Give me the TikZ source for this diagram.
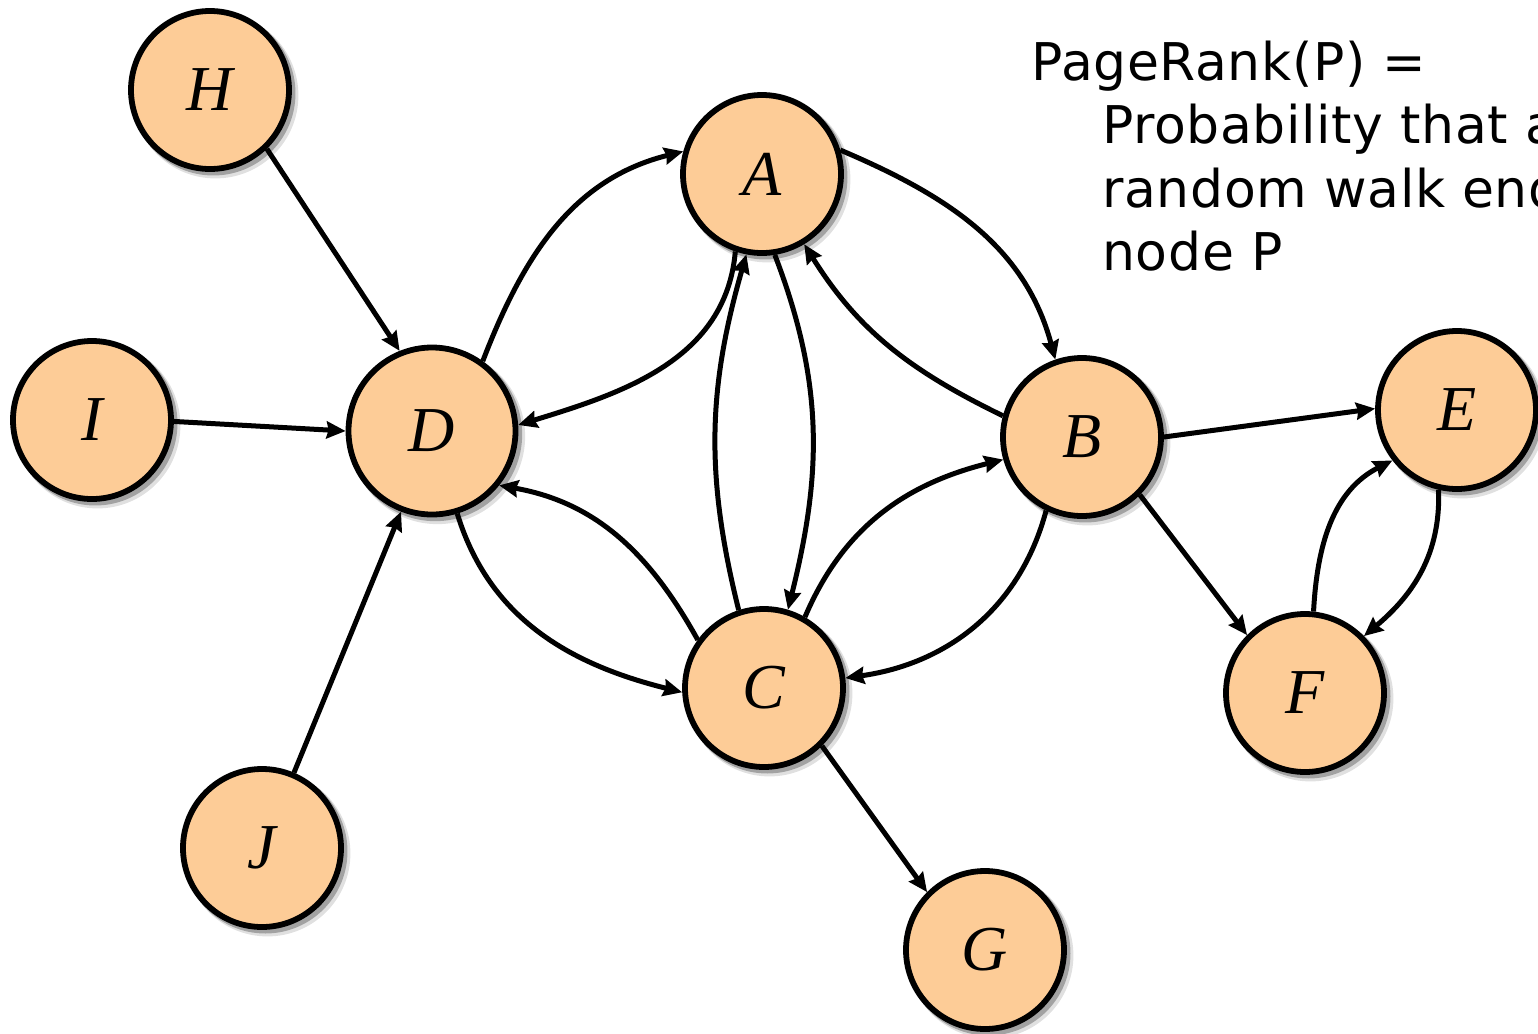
\documentclass[tikz,border=0pt]{standalone}
\usepackage{fontspec}
\setmainfont{Liberation Serif}
\newfontfamily\notefont[LetterSpace=1.2]{DejaVu Sans}
\usetikzlibrary{arrows.meta,shadows}
\definecolor{nodefill}{RGB}{253,204,151}

\begin{document}
\begin{tikzpicture}[x=0.5pt,y=0.5pt,
  vertex/.style={circle, draw=black, line width=2.9pt, fill=nodefill,
    minimum size=79pt, inner sep=0pt,
    font=\fontsize{32}{36}\selectfont\itshape,
    general shadow={shadow xshift=1.6pt, shadow yshift=-1.6pt, shadow scale=1.04,
      fill=black, opacity=0.28},
    general shadow={shadow xshift=2.6pt, shadow yshift=-2.6pt, shadow scale=1.05,
      fill=black, opacity=0.12}},
  bigvertex/.style={vertex, minimum size=83.5pt},
  link/.style={line width=2.5pt, -{Stealth[length=9.5pt,width=8.5pt,inset=1pt]}},
  note/.style={anchor=base west, inner sep=0pt, font=\notefont\fontsize{26}{32}\selectfont},
]
\useasboundingbox (0,0) rectangle (1538,-1034);
\clip (0,0) rectangle (1538,-1034);

% the formula in the upper right corner
\node[note] (note1) at (1031,-80)  {PageRank(P) =};
\node[note] (note2) at (1102,-143) {Probability that a};
\node[note] (note3) at (1102,-207) {random walk ends at};
\node[note] (note4) at (1102,-270) {node P};

% vertices
\node[vertex]    (H) at (210,-90)   {H};
\node[vertex]    (A) at (762,-174)  {A};
\node[vertex]    (I) at (92,-420)   {I};
\node[bigvertex] (D) at (432,-431)  {D};
\node[vertex]    (B) at (1082,-437) {B};
\node[vertex]    (E) at (1457,-410) {E};
\node[vertex]    (C) at (764,-688)  {C};
\node[vertex]    (F) at (1305,-693) {F};
\node[vertex]    (J) at (262,-848)  {J};
\node[vertex]    (G) at (985,-950)  {G};

% links into D from the left
\draw[link] (H.-46) -- (D.112);
\draw[link] (I.-1) -- (D.180);
\draw[link] (J.67) -- (D.-111);

% central cluster
\draw[link] (D.54)   to[out=69,in=194]   (A.164);
\draw[link] (A.-109) to[out=-95,in=17]   (D.4);
\draw[link] (A.-81)  to[out=-69,in=76]   (C.73);
\draw[link] (C.108)  to[out=104,in=-106] (A.-101);
\draw[link] (B.165)  to[out=154,in=-58]  (A.-59);
\draw[link] (A.17)   to[out=-23,in=105]  (B.109);
\draw[link] (D.-73)  to[out=-73,in=166]  (C.183);
\draw[link] (C.144)  to[out=119,in=-10]  (D.-39);
\draw[link] (C.60)   to[out=67,in=194]   (B.196);
\draw[link] (B.-116) to[out=-105,in=8]   (C.7);

% right part
\draw[link] (B.0)    -- (E.179);
\draw[link] (B.-45)  -- (F.135);
\draw[link] (F.84)   to[out=87,in=207]   (E.218);
\draw[link] (E.-103) to[out=-88,in=40]   (F.44);

% bottom
\draw[link] (C.-45)  -- (G.135);
\end{tikzpicture}
\end{document}
